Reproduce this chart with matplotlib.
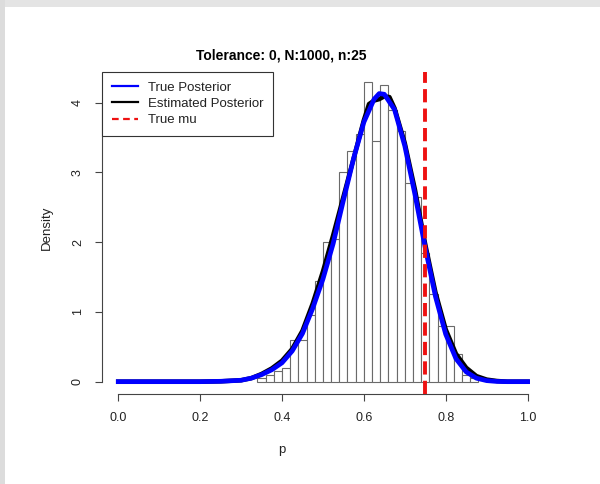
import matplotlib.pyplot as plt
from matplotlib.lines import Line2D
from matplotlib.patches import Rectangle

plt.rcParams['font.family'] = ['Liberation Sans', 'DejaVu Sans']

# histogram of accepted samples (bin width 0.02)
bin_left = [0.34, 0.36, 0.38, 0.40, 0.42, 0.44, 0.46, 0.48, 0.50, 0.52, 0.54,
            0.56, 0.58, 0.60, 0.62, 0.64, 0.66, 0.68, 0.70, 0.72, 0.74, 0.76,
            0.78, 0.80, 0.82, 0.84, 0.86]
density = [0.05, 0.10, 0.15, 0.20, 0.60, 0.60, 0.95, 1.45, 2.00, 2.05, 3.00,
           3.30, 3.55, 4.30, 3.45, 4.25, 3.90, 3.60, 2.85, 2.65, 1.85, 1.25,
           0.80, 0.80, 0.40, 0.10, 0.05]
bin_width = 0.02

# true posterior
p_true = [0.0, 0.05, 0.10, 0.15, 0.20, 0.25, 0.30, 0.325, 0.35, 0.375, 0.40,
          0.425, 0.45, 0.475, 0.50, 0.525, 0.55, 0.575, 0.60, 0.625, 0.6375,
          0.65, 0.675, 0.70, 0.725, 0.75, 0.775, 0.80, 0.825, 0.85, 0.875,
          0.90, 0.925, 0.95, 1.0]
d_true = [0, 0, 0, 0, 0, 0.005, 0.02, 0.05, 0.10, 0.17, 0.27,
          0.44, 0.69, 1.05, 1.47, 1.98, 2.60, 3.20, 3.72, 4.05, 4.13,
          4.12, 3.90, 3.38, 2.68, 1.92, 1.22, 0.68, 0.33, 0.14, 0.05,
          0.015, 0.003, 0, 0]

# kernel density estimate of the samples
p_est = [0.0, 0.05, 0.10, 0.15, 0.20, 0.25, 0.30, 0.325, 0.35, 0.375, 0.40,
         0.425, 0.45, 0.475, 0.50, 0.525, 0.55, 0.575, 0.60, 0.6125, 0.625,
         0.6375, 0.65, 0.6625, 0.675, 0.70, 0.725, 0.75, 0.775, 0.80, 0.825,
         0.85, 0.875, 0.90, 0.925, 0.95, 1.0]
d_est = [0, 0, 0, 0, 0, 0.005, 0.02, 0.05, 0.11, 0.19, 0.30,
         0.47, 0.73, 1.12, 1.58, 2.10, 2.65, 3.20, 3.75, 3.98, 4.03,
         4.05, 4.09, 4.08, 3.92, 3.42, 2.75, 1.97, 1.28, 0.75, 0.40,
         0.20, 0.08, 0.03, 0.01, 0, 0]

true_mu = 0.75

fig = plt.figure(figsize=(6, 4.84), dpi=100)
ax = fig.add_axes([0.1698, 0.1868, 0.7368, 0.6651])
ax.set_xlim(-0.04, 1.04)
ax.set_ylim(-0.171, 4.444)

ax.bar(bin_left, density, width=bin_width, align='edge',
       facecolor='white', edgecolor='#6a6a6a', linewidth=0.8, zorder=1)
ax.plot(p_est, d_est, color='black', linewidth=3.2, zorder=2)
ax.plot(p_true, d_true, color='#0000ff', linewidth=3.4, zorder=3)
ax.axvline(true_mu, color='#ee1111', linewidth=2.8, dashes=(3.4, 1.6), zorder=4)

# R-style axes
for side in ['top', 'right']:
    ax.spines[side].set_visible(False)
for side in ['bottom', 'left']:
    ax.spines[side].set_color('#444444')
    ax.spines[side].set_linewidth(0.8)
ax.spines['bottom'].set_bounds(0, 1)
ax.spines['left'].set_bounds(0, 4)

ax.set_xticks([0.0, 0.2, 0.4, 0.6, 0.8, 1.0])
ax.set_xticklabels(['0.0', '0.2', '0.4', '0.6', '0.8', '1.0'])
ax.set_yticks([0, 1, 2, 3, 4])
ax.set_yticklabels(['0', '1', '2', '3', '4'], rotation=90, va='center')
ax.tick_params(axis='both', direction='out', length=5, width=0.8,
               color='#444444', labelsize=9, labelcolor='#222222')
ax.tick_params(axis='x', pad=8)
ax.tick_params(axis='y', pad=8)

fig.text(281 / 600, 1 - 55 / 484, 'Tolerance: 0, N:1000, n:25',
         ha='center', va='center', fontsize=10, fontweight='bold')
fig.text(281.5 / 600, 1 - 450 / 484, 'p', ha='center', va='center',
         fontsize=9.5, color='#222222')
fig.text(46.7 / 600, 1 - 228 / 484, 'Density', ha='center', va='center',
         rotation=90, fontsize=9.5, color='#222222')

handles = [Line2D([], [], color='#0000ff', linewidth=1.6),
           Line2D([], [], color='black', linewidth=1.6),
           Line2D([], [], color='#ee1111', linewidth=1.6, dashes=(3, 2))]
leg = ax.legend(handles, ['True Posterior', 'Estimated Posterior', 'True mu'],
                loc='upper left', bbox_to_anchor=(0, 1), borderaxespad=0,
                fancybox=False, framealpha=1, edgecolor='#333333',
                fontsize=9.5, handlelength=2.0, handletextpad=0.75,
                labelspacing=0.3, borderpad=0.75)
leg.get_frame().set_linewidth(0.8)
for t in leg.get_texts():
    t.set_color('#222222')

# light grey frame along the top and left edges
fig.patches.append(Rectangle((0, 1 - 7 / 484), 1, 7 / 484, transform=fig.transFigure,
                             facecolor='#e4e4e4', edgecolor='none', zorder=0))
fig.patches.append(Rectangle((0, 0), 5 / 600, 1, transform=fig.transFigure,
                             facecolor='#dcdcdc', edgecolor='none', zorder=0))

fig.savefig('out.png', dpi=100)
